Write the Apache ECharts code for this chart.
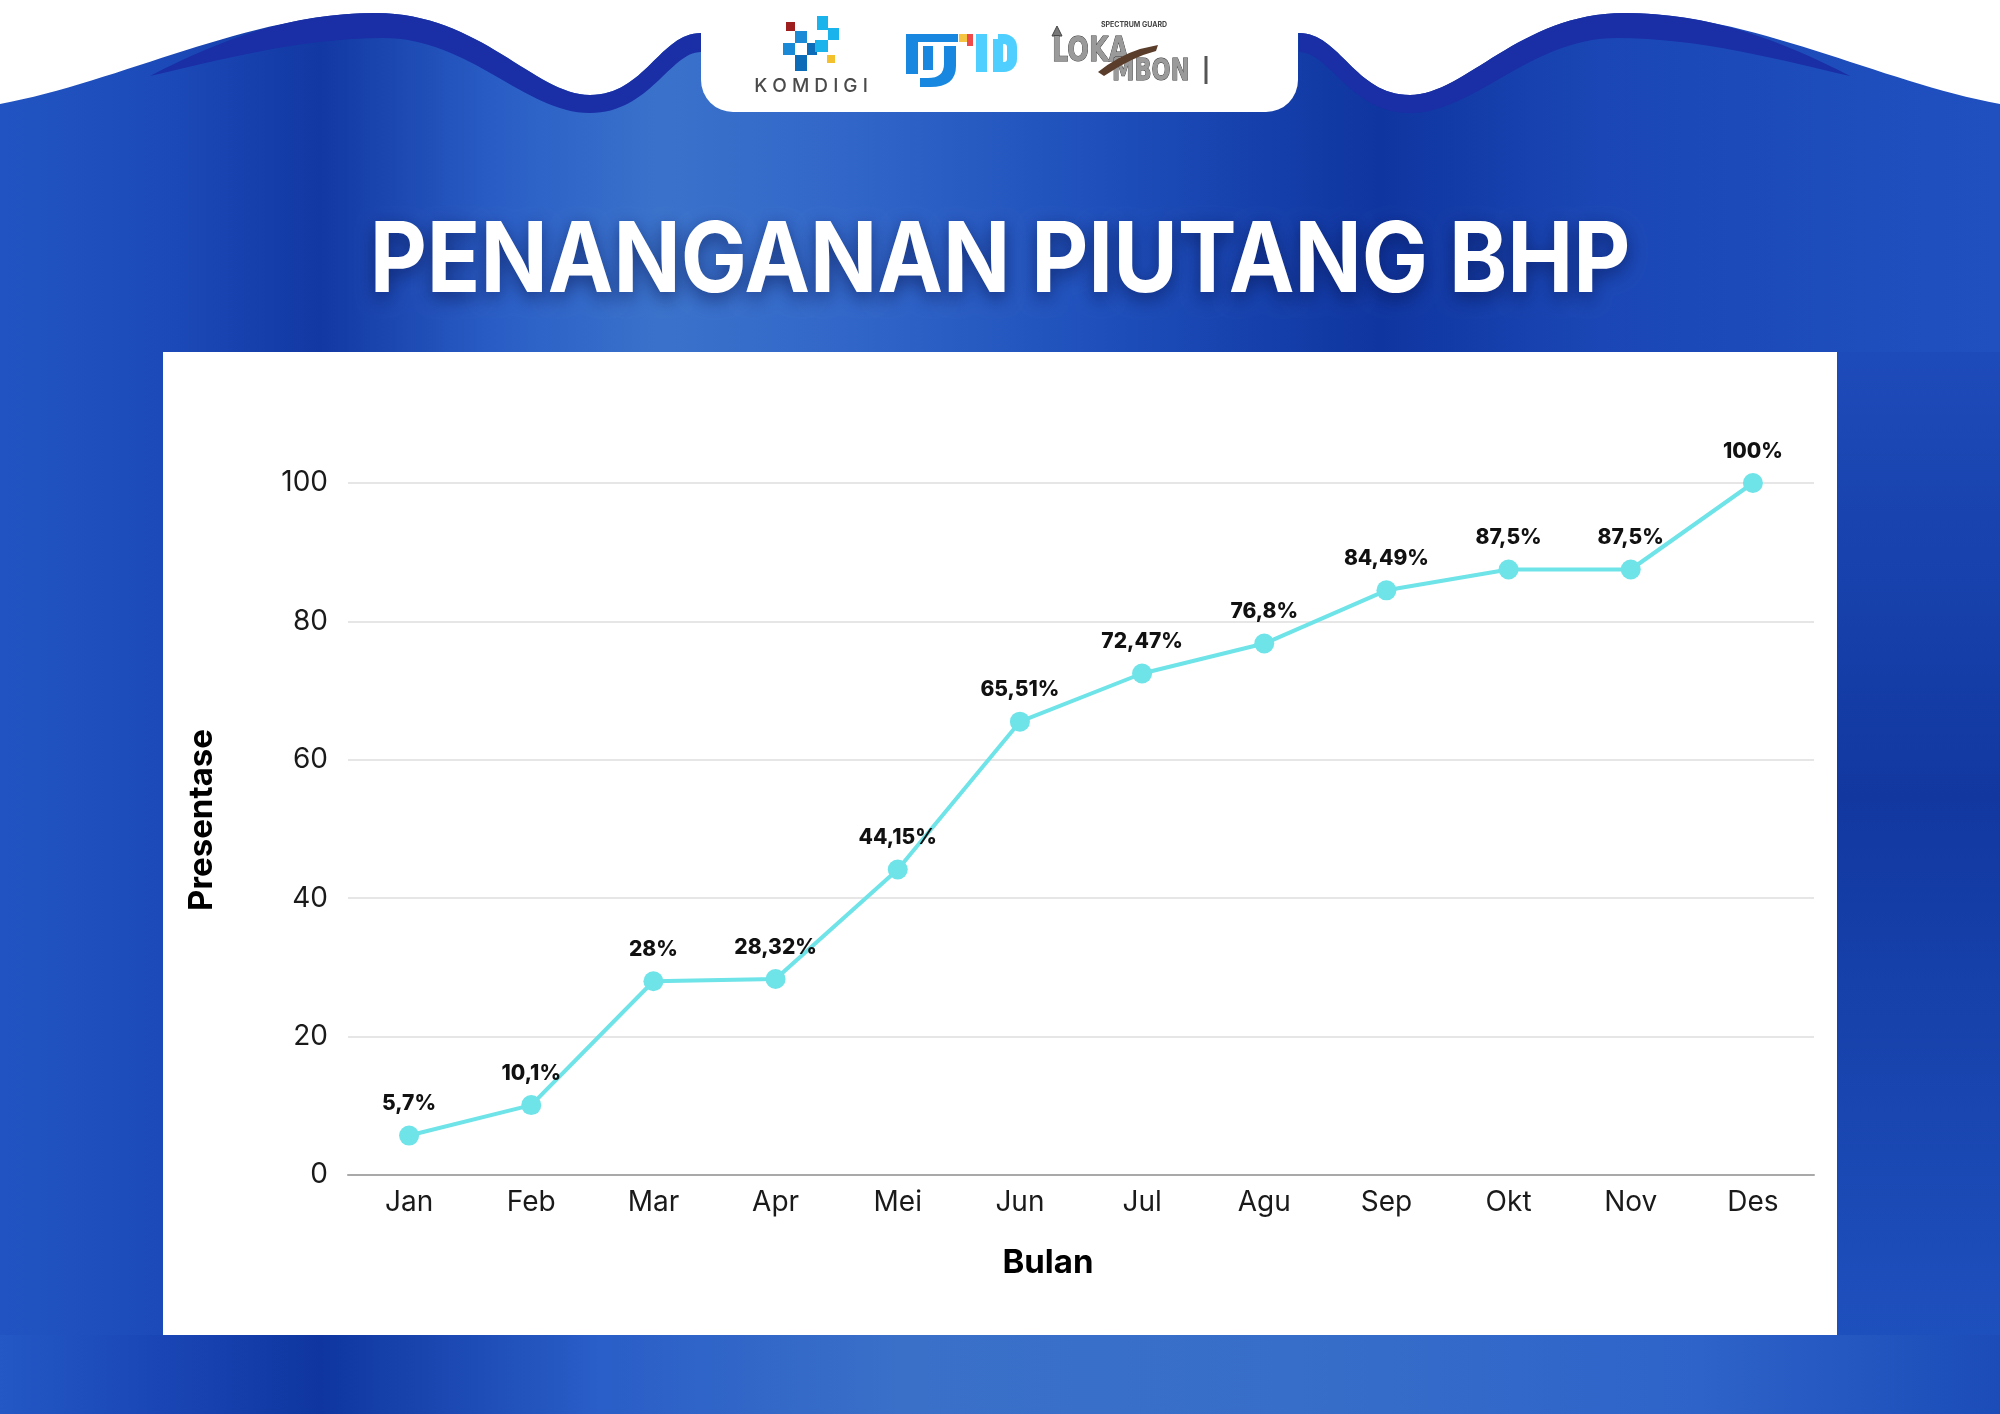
<!DOCTYPE html>
<html>
<head>
<meta charset="utf-8">
<title>Penanganan Piutang BHP</title>
<script src="https://cdn.jsdelivr.net/npm/echarts@6/dist/echarts.min.js"></script>
<style>
  html, body { margin: 0; padding: 0; background: #ffffff; }
  #chart { width: 2000px; height: 1414px; }
</style>
</head>
<body>
<div id="chart"></div>
<script>
// Monthly progress of receivable handling (percent)
const months = ['Jan', 'Feb', 'Mar', 'Apr', 'Mei', 'Jun', 'Jul', 'Agu', 'Sep', 'Okt', 'Nov', 'Des'];
const presentase = [5.7, 10.1, 28, 28.32, 44.15, 65.51, 72.47, 76.8, 84.49, 87.5, 87.5, 100];
const yMin = 0;
const yMax = 100;
const yStep = 20;

const titleText = 'PENANGANAN PIUTANG BHP';
const xName = 'Bulan';
const yName = 'Presentase';

const FONT = 'Inter, "Noto Sans", sans-serif';
const LINE_COLOR = '#6ee3e8';

// Indonesian decimal comma for the point labels
const fmtPct = v => String(v).replace('.', ',') + '%';

// Decorative header shapes, registered as custom graphic shapes
function registerPath(name, d) {
  echarts.graphic.registerShape(name, echarts.graphic.extendPath(d, {}));
}
// Wavy header outline (symmetric about x = 1000)
registerPath('waveBg',
  'M0,104 C120,82 250,13 376,13 C480,13 535,95 590,95 C645,95 660,33 701,33 ' +
  'L1299,33 C1340,33 1355,95 1410,95 C1465,95 1520,13 1624,13 C1750,13 1880,82 2000,104 ' +
  'L2000,1414 L0,1414 Z');
registerPath('bandLeft',
  'M150,76 C220,40 290,13 376,13 C480,13 535,95 590,95 C645,95 660,33 701,33 ' +
  'L701,52 C670,52 650,113 590,113 C525,113 470,38 383,38 C300,38 220,60 150,76 Z');
registerPath('bandRight',
  'M1850,76 C1780,40 1710,13 1624,13 C1520,13 1465,95 1410,95 C1355,95 1340,33 1299,33 ' +
  'L1299,52 C1330,52 1350,113 1410,113 C1475,113 1530,38 1617,38 C1700,38 1780,60 1850,76 Z');
registerPath('djidTop', 'M906,34 H958 V42 H918 V74 H906 Z');
registerPath('djidHook', 'M944,46 H956 V66 Q956,87 930,87 H920 V78 H928 Q944,78 944,64 Z');
registerPath('spearHead', 'M1052,36 L1057,26 L1062,36 Z');
registerPath('blade', 'M1098,72 Q1118,56 1140,49 L1158,45 L1156,51 Q1132,57 1104,76 Z');

const LG = echarts.graphic.LinearGradient;
const stops = arr => arr.map(([offset, color]) => ({ offset, color }));

const bgGradient = new LG(0, 0, 2000, 0, stops([
  [0.00, '#2154c2'], [0.08, '#1c4bb9'], [0.16, '#1238a3'], [0.25, '#2a5ec6'],
  [0.33, '#3a72cb'], [0.42, '#3267c9'], [0.55, '#1e4fbb'], [0.69, '#0f35a0'],
  [0.80, '#1a47b5'], [1.00, '#2050c0']
]), true);
const bottomGradient = new LG(0, 0, 2000, 0, stops([
  [0.00, '#2358c5'], [0.08, '#1a46b5'], [0.16, '#0f36a0'], [0.30, '#2a5ec8'],
  [0.45, '#3a70c8'], [0.65, '#376ec9'], [0.85, '#2e63c9'], [1.00, '#1b4cb8']
]), true);
const rightStripGradient = new LG(0, 352, 0, 1340, stops([
  [0.00, '#1d4bb9'], [0.45, '#1238a0'], [1.00, '#1e50bd']
]), true);

const graphics = [
  { type: 'waveBg', z: 0, style: { fill: bgGradient } },
  { type: 'rect', z: 0, shape: { x: 0, y: 1335, width: 2000, height: 79 }, style: { fill: bottomGradient } },
  { type: 'rect', z: 0, shape: { x: 1837, y: 352, width: 163, height: 983 }, style: { fill: rightStripGradient } },
  { type: 'bandLeft', z: 1, style: { fill: '#1a2ea6' } },
  { type: 'bandRight', z: 1, style: { fill: '#1a2ea6' } },
  // white logo tab
  { type: 'rect', z: 1, shape: { x: 701, y: -40, width: 597, height: 152, r: 32 }, style: { fill: '#ffffff' } },

  // KOMDIGI mark
  { type: 'rect', z: 2, shape: { x: 786, y: 22, width: 9, height: 9 }, style: { fill: '#9e1d1d' } },
  { type: 'rect', z: 2, shape: { x: 795, y: 31, width: 12, height: 12 }, style: { fill: '#1a8ad6' } },
  { type: 'rect', z: 2, shape: { x: 783, y: 43, width: 12, height: 12 }, style: { fill: '#1a8ad6' } },
  { type: 'rect', z: 2, shape: { x: 795, y: 55, width: 12, height: 16 }, style: { fill: '#0c6cb8' } },
  { type: 'rect', z: 2, shape: { x: 807, y: 43, width: 10, height: 12 }, style: { fill: '#0c6cb8' } },
  { type: 'rect', z: 2, shape: { x: 817, y: 16, width: 11, height: 14 }, style: { fill: '#1bb3ec' } },
  { type: 'rect', z: 2, shape: { x: 828, y: 28, width: 11, height: 12 }, style: { fill: '#1bb3ec' } },
  { type: 'rect', z: 2, shape: { x: 815, y: 40, width: 13, height: 12 }, style: { fill: '#1bb3ec' } },
  { type: 'rect', z: 2, shape: { x: 827, y: 55, width: 8, height: 8 }, style: { fill: '#f3c12d' } },
  { type: 'text', z: 2, x: 811, y: 86, style: { text: 'K O M D I G I', fill: '#4a4a4a', fontSize: 19, fontWeight: 500, fontFamily: FONT, align: 'center', verticalAlign: 'middle' } },

  // DJID mark
  { type: 'djidTop', z: 2, style: { fill: '#1787e0' } },
  { type: 'djidHook', z: 2, style: { fill: '#1787e0' } },
  { type: 'rect', z: 2, shape: { x: 923, y: 46, width: 10, height: 24 }, style: { fill: '#1787e0' } },
  { type: 'rect', z: 2, shape: { x: 959, y: 34, width: 8, height: 8 }, style: { fill: '#f5c542' } },
  { type: 'rect', z: 2, shape: { x: 967, y: 34, width: 6, height: 12 }, style: { fill: '#ef4b4b' } },
  { type: 'rect', z: 2, shape: { x: 976, y: 34, width: 11, height: 38 }, style: { fill: '#4fcfff' } },
  { type: 'rect', z: 2, shape: { x: 998, y: 39, width: 14, height: 28, r: [0, 8, 8, 0] }, style: { fill: 'none', stroke: '#4fcfff', lineWidth: 10 } },

  // LOKA MBON mark
  { type: 'text', z: 2, x: 1134, y: 25, style: { text: 'SPECTRUM GUARD', fill: '#444', fontSize: 7, fontWeight: 700, fontFamily: FONT, align: 'center', verticalAlign: 'middle' } },
  { type: 'line', z: 2, shape: { x1: 1057, y1: 28, x2: 1057, y2: 40 }, style: { stroke: '#555', lineWidth: 2 } },
  { type: 'spearHead', z: 2, style: { fill: '#777', stroke: '#444', lineWidth: 1 } },
  { type: 'text', z: 2, x: 1052, y: 52, scaleX: 0.75, style: { text: 'LOKA', fill: '#9a9a9a', stroke: '#333', lineWidth: 1, fontSize: 34, fontWeight: 700, fontFamily: '"DejaVu Sans", sans-serif', align: 'left', verticalAlign: 'middle' } },
  { type: 'text', z: 2, x: 1112, y: 72, scaleX: 0.75, style: { text: 'MBON', fill: '#9a9a9a', stroke: '#333', lineWidth: 1, fontSize: 30, fontWeight: 700, fontFamily: '"DejaVu Sans", sans-serif', align: 'left', verticalAlign: 'middle' } },
  { type: 'blade', z: 3, style: { fill: '#5a3d2b' } },
  { type: 'line', z: 2, shape: { x1: 1206, y1: 56, x2: 1206, y2: 84 }, style: { stroke: '#555', lineWidth: 3 } },

  // Title
  { type: 'text', z: 4, x: 1000, y: 263, scaleX: 0.9, style: {
      text: titleText, fill: '#ffffff', fontSize: 98, fontWeight: 700, fontFamily: FONT,
      align: 'center', verticalAlign: 'middle',
      textShadowColor: 'rgba(5, 15, 70, 0.55)', textShadowBlur: 18, textShadowOffsetY: 6 } },

  // White chart panel
  { type: 'rect', z: 1, shape: { x: 163, y: 352, width: 1674, height: 983 }, style: { fill: '#ffffff' } },

  // Axis titles
  { type: 'text', z: 4, x: 1048, y: 1263, style: { text: xName, fill: '#000', fontSize: 33, fontWeight: 700, fontFamily: FONT, align: 'center', verticalAlign: 'middle' } },
  { type: 'text', z: 4, x: 202, y: 820, rotation: Math.PI / 2, style: { text: yName, fill: '#000', fontSize: 33, fontWeight: 700, fontFamily: FONT, align: 'center', verticalAlign: 'middle' } }
];

const chart = echarts.init(document.getElementById('chart'), null, { renderer: 'canvas' });

const option = {
  backgroundColor: '#ffffff',
  animation: false,
  textStyle: { fontFamily: FONT },
  graphic: { elements: graphics },
  grid: { left: 348, right: 186, top: 483, bottom: 239, containLabel: false, z: 5 },
  xAxis: {
    type: 'category',
    data: months,
    boundaryGap: true,
    z: 5,
    axisTick: { show: false },
    axisLine: { show: true, lineStyle: { color: '#a9a9a9', width: 2 } },
    axisLabel: { fontSize: 28, color: '#1a1a1a', margin: 14, fontFamily: FONT }
  },
  yAxis: {
    type: 'value',
    min: yMin,
    max: yMax,
    interval: yStep,
    z: 5,
    axisLine: { show: false },
    axisTick: { show: false },
    axisLabel: { fontSize: 28, color: '#1a1a1a', margin: 20, fontFamily: FONT },
    splitLine: { lineStyle: { color: '#dedede', width: 1.5 } }
  },
  series: [{
    type: 'line',
    data: presentase,
    z: 10,
    symbol: 'circle',
    symbolSize: 20,
    lineStyle: { color: LINE_COLOR, width: 4 },
    itemStyle: { color: LINE_COLOR },
    label: {
      show: true,
      position: 'top',
      distance: 11,
      formatter: p => fmtPct(p.value),
      fontSize: 21,
      fontWeight: 800,
      color: '#111',
      fontFamily: FONT
    }
  }]
};

chart.setOption(option);
</script>
</body>
</html>
